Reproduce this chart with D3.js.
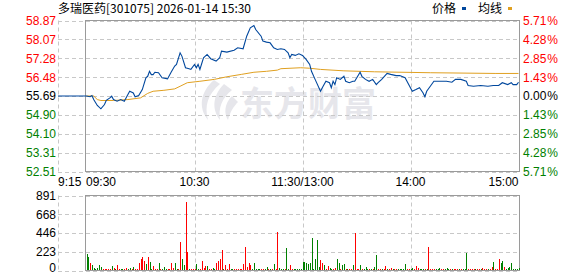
<!DOCTYPE html>
<html>
<head>
<meta charset="utf-8">
<script src="https://cdn.jsdelivr.net/npm/d3@7"></script>
<style>
  body { margin: 0; background: #fff; }
  text { font-family: "Liberation Sans", Arial, sans-serif; font-size: 12px; }
</style>
</head>
<body>
<script>
const width = 578;
const height = 276;

// The data
const title = '多瑞医药[301075] 2026-01-14 15:30';
const prevClose = 55.69;
const priceTicks = [58.87, 58.07, 57.28, 56.48, 55.69, 54.90, 54.10, 53.31, 52.51];
const pctTicks = ['5.71', '4.28', '2.85', '1.43', '0.00', '1.43', '2.85', '4.28', '5.71'];
const volTicks = [891, 668, 446, 223, 0];
const timeTicks = [-15, 0, 60, 120, 180, 240];
const timeLabels = ['9:15', '09:30', '10:30', '11:30/13:00', '14:00', '15:00'];

// price line: minutes after 09:30 (trading time), price
const priceMin = [-15, 0, 2, 3, 4, 6, 8, 10, 11, 13, 14, 15, 17, 19, 21, 23, 24, 26, 27, 29,
  31, 33, 34, 35, 36, 37, 38, 40, 42, 45, 47, 49, 50, 52, 53, 55, 57, 58, 60, 61,
  62, 63, 65, 67, 69, 72, 74, 75, 78, 82, 84, 87, 89, 91, 93, 94, 97, 98, 100, 102,
  104, 106, 108, 110, 112, 113, 114, 116, 118, 120, 122, 124, 125, 127, 130, 131, 133, 135, 136, 137,
  138, 139, 141, 143, 144, 146, 148, 149, 152, 153, 155, 157, 159, 161, 162, 164, 167, 169, 172, 174,
  177, 179, 181, 183, 185, 187, 188, 189, 191, 193, 195, 200, 203, 205, 208, 211, 212, 215, 219, 223,
  226, 229, 231, 234, 236, 237, 239, 240];
const priceVal = [55.69, 55.69, 55.66, 55.71, 55.54, 55.29, 55.15, 55.33, 55.51, 55.61, 55.68, 55.54, 55.47, 55.54, 55.47, 55.75, 55.89, 55.82, 55.66, 55.71,
  55.96, 56.46, 56.52, 56.73, 56.59, 56.59, 56.69, 56.67, 56.46, 56.41, 56.69, 56.95, 57.02, 57.51, 57.37, 56.88, 56.84, 56.81, 57.02, 56.88,
  57.02, 56.81, 57.30, 57.44, 57.26, 57.16, 57.30, 57.58, 57.54, 57.62, 57.72, 57.68, 58.21, 58.56, 58.66, 58.49, 58.21, 58.00, 57.96, 57.93,
  57.72, 57.65, 57.68, 57.65, 57.51, 57.30, 57.44, 57.40, 57.47, 57.40, 57.23, 57.02, 56.73, 56.39, 55.89, 56.04, 56.31, 56.25, 56.04, 56.31,
  56.17, 56.46, 56.39, 56.52, 56.31, 56.25, 56.31, 56.31, 56.69, 56.52, 56.39, 56.31, 56.39, 56.17, 56.25, 56.39, 56.64, 56.60, 56.55, 56.55,
  56.46, 56.17, 55.89, 55.96, 56.04, 55.82, 55.66, 55.89, 56.10, 56.31, 56.31, 56.31, 56.27, 56.39, 56.39, 56.31, 56.13, 56.10, 56.13, 56.10,
  56.13, 56.13, 56.25, 56.17, 56.25, 56.17, 56.17, 56.27];

// average line
const avgMin = [0, 4, 6, 8, 15, 23, 30, 34, 37, 43, 49, 52, 56, 63, 71, 78, 86, 93, 100, 106,
  108, 119, 124, 130, 143, 160, 191, 227, 240];
const avgVal = [55.69, 55.69, 55.54, 55.50, 55.50, 55.54, 55.61, 55.80, 55.89, 55.93, 55.99, 56.10, 56.25, 56.31, 56.39, 56.50, 56.60, 56.69, 56.73, 56.78,
  56.84, 56.88, 56.86, 56.81, 56.75, 56.71, 56.67, 56.64, 56.64];

// volume per minute (0..240)
const vol = [
  193, 157, 85, 60, 24, 12, 24, 68, 36, 12,
  12, 12, 12, 12, 48, 24, 12, 68, 12, 12,
  12, 12, 24, 12, 24, 12, 36, 12, 12, 85,
  133, 157, 109, 72, 157, 97, 12, 48, 12, 12,
  85, 12, 12, 36, 12, 12, 12, 85, 24, 85,
  12, 12, 339, 133, 60, 818, 218, 12, 12, 12,
  12, 72, 12, 12, 109, 24, 48, 48, 12, 12,
  24, 12, 85, 109, 133, 242, 12, 60, 12, 72,
  12, 12, 12, 12, 12, 12, 12, 72, 278, 36,
  85, 60, 12, 85, 12, 12, 12, 12, 12, 12,
  36, 12, 12, 12, 72, 12, 459, 24, 12, 12,
  12, 266, 12, 60, 12, 12, 12, 12, 12, 12,
  97, 97, 85, 72, 85, 387, 12, 133, 363, 36,
  121, 85, 60, 12, 48, 24, 12, 12, 24, 133,
  85, 12, 60, 72, 12, 12, 12, 12, 60, 447,
  12, 12, 60, 12, 12, 36, 12, 12, 12, 12,
  36, 181, 12, 12, 12, 12, 48, 12, 12, 24,
  12, 12, 12, 12, 12, 12, 12, 72, 12, 12,
  12, 24, 12, 48, 24, 12, 12, 12, 12, 12,
  278, 12, 12, 12, 12, 12, 24, 12, 12, 12,
  24, 12, 12, 12, 12, 12, 12, 12, 12, 12,
  12, 206, 12, 12, 12, 12, 12, 12, 12, 12,
  24, 12, 12, 12, 12, 36, 97, 12, 12, 133,
  85, 109, 36, 12, 24, 36, 85, 12, 12, 12, 24];
// r = up minute, g = down minute
const volDir =
  'ggrggggggrr'.slice(0, 10) + 'rrrrgrgrrg' + 'grrggrgrrr' + 'rrrgrggrrr' + 'grgggrrrrg' +
  'grrggrrgrr' + 'rggrrrrgrr' + 'ggrrrrgrrr' + 'ggrrrrrrrr' + 'rrgggggrrg' +
  'grgrgrrggg' + 'rggrrggggg' + 'gggggggggg' + 'rrgrrggrrg' + 'grggrgrrgr' +
  'rrgrgggrgr' + 'ggrrgrrgrr' + 'grrgggggrr' + 'ggrrrgggrg' + 'rrrrgggrrg' +
  'ggrgrrrgrg' + 'ggrrrrgrrg' + 'rrrgrrgrrr' + 'ggrggggggggr';

const cRed = '#ff0000';
const cGreen = '#008000';
const cGrid = '#c8c8c8';
const cBorder = '#9a9a9a';

// The svg
var svg = d3.select('body')
  .append('svg')
  .attr('width', width)
  .attr('height', height);

// scales: 9:15-9:30 is squeezed into the left strip
const x = d3.scaleLinear().domain([-15, 0, 240]).range([58, 86.5, 518.5]);
const y = d3.scaleLinear().domain([52.51, 58.87]).range([171.5, 20.5]);
const yv = d3.scaleLinear().domain([0, 891]).range([270.5, 195.5]);

function tickColor(v) {
  if (Math.abs(v - prevClose) < 0.005) return '#000';
  return v > prevClose ? cRed : cGreen;
}

// title and legend
svg.append('text')
  .attr('x', 58).attr('y', 13)
  .style('font-family', '"Noto Sans CJK SC", sans-serif')
  .style('font-size', '12px')
  .text(title);

var legend = [['价格', '#00479d', 432], ['均线', '#e0a020', 478]];
legend.forEach(function (d) {
  svg.append('text')
    .attr('x', d[2]).attr('y', 13)
    .style('font-family', '"Noto Sans CJK SC", sans-serif')
    .style('font-size', '12px')
    .text(d[0]);
  svg.append('rect')
    .attr('x', d[2] + 30).attr('y', 7)
    .attr('width', 4).attr('height', 3)
    .attr('fill', d[1]);
});

// watermark
var wm = svg.append('g').attr('fill', '#e6e6eb');
wm.append('path')
  .attr('d', 'M214,80 C200,92 198,108 208,120 C204,106 208,94 220,84 Z M224,84 C212,96 212,110 220,120 C218,108 222,98 232,90 Z M232,96 C224,104 224,114 228,120 C230,112 234,106 238,102 Z');
wm.append('text')
  .attr('x', 240).attr('y', 116)
  .style('font-family', '"Noto Sans CJK SC", sans-serif')
  .style('font-size', '34px')
  .style('font-weight', 'bold')
  .text('东方财富');

// horizontal grid, price panel
svg.append('g').selectAll('line')
  .data(priceTicks)
  .join('line')
  .attr('x1', 58).attr('x2', 519)
  .attr('y1', d => Math.round(y(d)) + 0.5).attr('y2', d => Math.round(y(d)) + 0.5)
  .attr('stroke', cGrid).attr('stroke-dasharray', '4,3');

// horizontal grid, volume panel
svg.append('g').selectAll('line')
  .data(volTicks)
  .join('line')
  .attr('x1', 58).attr('x2', 519)
  .attr('y1', d => Math.round(yv(d)) + 0.5).attr('y2', d => Math.round(yv(d)) + 0.5)
  .attr('stroke', cGrid).attr('stroke-dasharray', '4,3');

// vertical grid in both panels
[[20.5, 171.5], [195.5, 270.5]].forEach(function (r) {
  svg.append('g').selectAll('line')
    .data([-15, 60, 120, 180])
    .join('line')
    .attr('x1', d => Math.round(x(d)) + 0.5).attr('x2', d => Math.round(x(d)) + 0.5)
    .attr('y1', r[0]).attr('y2', r[1])
    .attr('stroke', cGrid).attr('stroke-dasharray', '4,3');
});

// borders
svg.append('rect')
  .attr('x', 85.5).attr('y', 20.5).attr('width', 434).attr('height', 151)
  .attr('fill', 'none').attr('stroke', cBorder);
svg.append('rect')
  .attr('x', 85.5).attr('y', 195.5).attr('width', 434).attr('height', 75)
  .attr('fill', 'none').attr('stroke', cBorder);

// left price axis
var axL = svg.append('g')
  .attr('transform', 'translate(56,0)')
  .call(d3.axisLeft(y).tickValues(priceTicks).tickSize(0).tickPadding(0).tickFormat(d3.format('.2f')));
axL.select('.domain').remove();
axL.selectAll('text')
  .style('font-size', '12px')
  .style('font-family', '"Liberation Sans", Arial, sans-serif')
  .attr('fill', d => tickColor(d));

// right percent axis
var axR = svg.append('g')
  .attr('transform', 'translate(523,0)')
  .call(d3.axisRight(y).tickValues(priceTicks).tickSize(0).tickPadding(0).tickFormat((d, i) => pctTicks[i]));
axR.select('.domain').remove();
axR.selectAll('text')
  .style('font-size', '12px')
  .style('font-family', '"Liberation Sans", Arial, sans-serif')
  .attr('fill', d => tickColor(d));
axR.selectAll('.tick text').append('tspan').attr('dx', 1).text('%');

// time axis
svg.append('g').selectAll('text')
  .data(timeTicks)
  .join('text')
  .attr('x', (d, i) => i == 0 ? 58 : x(d) + (i == 1 ? -0.5 : 0))
  .attr('y', 186)
  .style('text-anchor', (d, i) => i < 2 ? 'start' : (i == timeTicks.length - 1 ? 'end' : 'middle'))
  .text((d, i) => timeLabels[i]);

// volume axis
var axV = svg.append('g')
  .attr('transform', 'translate(56,0)')
  .call(d3.axisLeft(yv).tickValues(volTicks).tickSize(0).tickPadding(0));
axV.select('.domain').remove();
axV.selectAll('text')
  .style('font-size', '12px')
  .style('font-family', '"Liberation Sans", Arial, sans-serif')
  .attr('fill', '#000')
  .attr('dy', d => d == 0 ? '0.1em' : '0.32em');

// average line
svg.append('path')
  .datum(avgMin.map((m, i) => [m, avgVal[i]]))
  .attr('fill', 'none')
  .attr('stroke', '#e0a020')
  .attr('stroke-width', 1)
  .attr('d', d3.line().x(d => x(d[0])).y(d => y(d[1])));

// price line
svg.append('path')
  .datum(priceMin.map((m, i) => [m, priceVal[i]]))
  .attr('fill', 'none')
  .attr('stroke', '#00479d')
  .attr('stroke-width', 1.1)
  .attr('d', d3.line().x(d => x(d[0])).y(d => y(d[1])));

// volume bars
svg.append('g').selectAll('rect')
  .data(vol)
  .join('rect')
  .attr('x', (d, i) => Math.round(x(i)))
  .attr('width', 1)
  .attr('y', d => Math.round(yv(d)))
  .attr('height', d => 270 - Math.round(yv(d)))
  .attr('fill', (d, i) => volDir[i] == 'r' ? cRed : cGreen)
  .attr('shape-rendering', 'crispEdges');
</script>
</body>
</html>
